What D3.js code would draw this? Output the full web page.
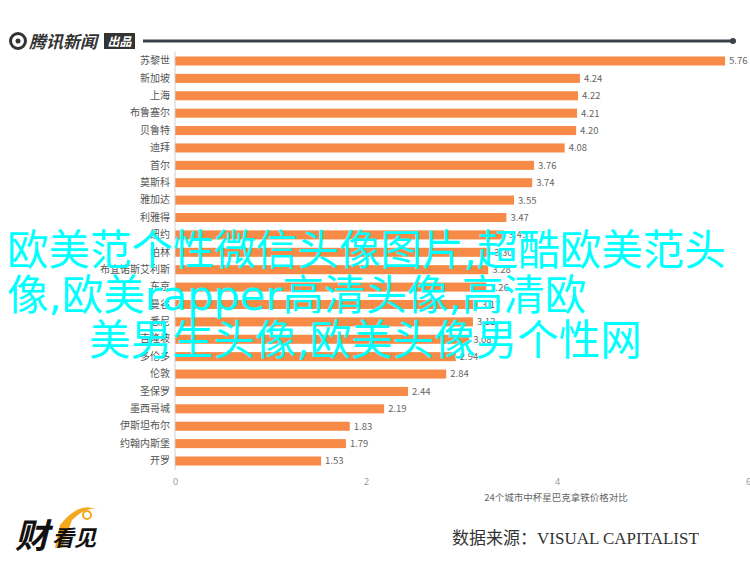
<!DOCTYPE html>
<html><head><meta charset="utf-8">
<script src="https://cdn.jsdelivr.net/npm/d3@7/dist/d3.min.js"></script>
<style>
body{margin:0;background:#fff;}
svg{display:block;font-family:"Noto Sans CJK SC","Noto Sans",sans-serif;}
</style></head>
<body><svg id="c" width="750" height="575"></svg>
<script>
const cities = ["苏黎世","新加坡","上海","布鲁塞尔","贝鲁特","迪拜","首尔","莫斯科","雅加达","利雅得","纽约","柏林","布宜诺斯艾利斯","东京","曼谷","悉尼","吉隆坡","多伦多","伦敦","圣保罗","墨西哥城","伊斯坦布尔","约翰内斯堡","开罗"];
const prices = [5.76,4.24,4.22,4.21,4.20,4.08,3.76,3.74,3.55,3.47,3.45,3.30,3.28,3.26,3.17,3.12,3.08,2.94,2.84,2.44,2.19,1.83,1.79,1.53];
const xTicks = [0,2,4,6];
const axisTitle = "24个城市中杯星巴克拿铁价格对比";
const sourceText = "数据来源：VISUAL CAPITALIST";
const overlayLines = ["欧美范个性微信头像图片,超酷欧美范头","像,欧美rapper高清头像,高清欧","美男生头像,欧美头像男个性网"];

const svg = d3.select("#c");
const x = d3.scaleLinear().domain([0,6]).range([175,748]);
const y = d3.scaleBand().domain(cities).range([52.3,469.7]).paddingInner(0.48).paddingOuter(0.24);

// header logo
const hdr = svg.append("g");
hdr.append("circle").attr("cx",18).attr("cy",41).attr("r",7.5).attr("fill","none").attr("stroke","#333").attr("stroke-width",3);
hdr.append("circle").attr("cx",18).attr("cy",41).attr("r",2.5).attr("fill","#333");
hdr.append("text").attr("x",29).attr("y",48).attr("font-size",17).attr("font-weight","bold").attr("font-style","italic").attr("fill","#333").text("腾讯新闻");
hdr.append("rect").attr("x",104).attr("y",33).attr("width",31).attr("height",16).attr("fill","#333");
hdr.append("text").attr("x",119.5).attr("y",46).attr("text-anchor","middle").attr("font-size",12).attr("font-weight","bold").attr("font-style","italic").attr("fill","#fff").text("出品");
hdr.append("line").attr("x1",143).attr("x2",733).attr("y1",41).attr("y2",41).attr("stroke","#3b404b").attr("stroke-width",3);
hdr.append("circle").attr("cx",733).attr("cy",41).attr("r",3).attr("fill","#3b404b");

// bars
svg.append("g").selectAll("rect").data(prices).join("rect")
  .attr("x",x(0)).attr("y",(d,i)=>y(cities[i]))
  .attr("width",d=>x(d)-x(0)).attr("height",y.bandwidth())
  .attr("fill","#f68a46");

// value labels
svg.append("g").selectAll("text").data(prices).join("text")
  .attr("x",d=>x(d)+4).attr("y",(d,i)=>y(cities[i])+y.bandwidth()/2)
  .attr("dy","0.36em").attr("font-size",9.5).attr("fill","#666")
  .text(d=>d.toFixed(2));

// y axis
const ya = svg.append("g").attr("transform",`translate(${x(0)},0)`)
  .call(d3.axisLeft(y).tickSize(0).tickPadding(5));
ya.select(".domain").attr("stroke","#d0d0d0").attr("d","M0,52V470");
ya.selectAll("text").attr("font-size",10).attr("fill","#555").attr("font-family","'Noto Sans CJK SC',sans-serif");

// x axis
const xa = svg.append("g").attr("transform","translate(0,476)")
  .call(d3.axisBottom(x).tickValues(xTicks).tickSize(0).tickPadding(3).tickFormat(d3.format("d")));
xa.select(".domain").remove();
xa.selectAll("text").attr("font-size",9).attr("fill","#999").attr("font-family","'Noto Sans',sans-serif");

svg.append("text").attr("x",556).attr("y",501).attr("text-anchor","middle").attr("font-size",9.5).attr("fill","#666").text(axisTitle);

// source
svg.append("text").attr("x",452).attr("y",544).attr("font-size",17).attr("fill","#333")
  .attr("font-family","'Liberation Serif','DejaVu Serif','Noto Sans CJK SC',serif").text(sourceText);

// bottom-left logo
const lg = svg.append("g");
lg.append("path").attr("d","M60,525 Q80,500 98,510 Q88,505 72,520 L62,548 L55,548 Z").attr("fill","#f4a81d");
lg.append("text").attr("x",15).attr("y",548).attr("font-size",34).attr("font-weight","bold").attr("font-style","italic").attr("fill","#111").text("财");
lg.append("text").attr("x",52).attr("y",546).attr("font-size",22).attr("font-weight","bold").attr("font-style","italic").attr("fill","#111").text("看见");
lg.append("circle").attr("cx",87).attr("cy",515).attr("r",4).attr("fill","none").attr("stroke","#f4a81d").attr("stroke-width",2);

// overlay text
const ov = svg.append("text").attr("font-size",41.5).attr("fill","#00ffff").attr("font-family","'DejaVu Sans','Noto Sans CJK SC',sans-serif");
const lx = [7,7,89], ly = [265,310,355];
overlayLines.forEach((t,i)=>ov.append("tspan").attr("x",lx[i]).attr("y",ly[i]).text(t));
</script></body></html>
